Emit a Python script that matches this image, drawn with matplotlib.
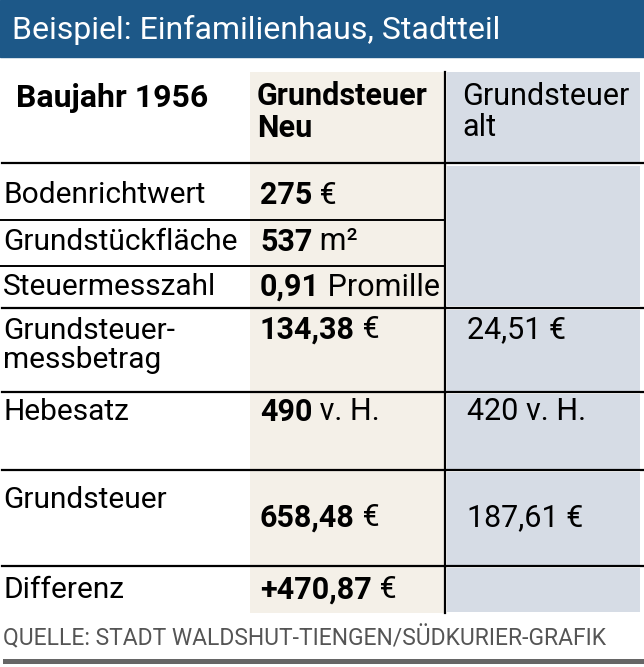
import matplotlib.pyplot as plt
from matplotlib.patches import Rectangle

FONT = ['Liberation Sans Narrow', 'Roboto', 'DejaVu Sans']

title = 'Beispiel: Einfamilienhaus, Stadtteil'
source = 'QUELLE: STADT WALDSHUT-TIENGEN/SÜDKURIER-GRAFIK'
corner = 'Baujahr 1956'
col_new = 'Grundsteuer\nNeu'
col_old = 'Grundsteuer\nalt'

labels = ['Bodenrichtwert', 'Grundstückfläche', 'Steuermesszahl',
          'Grundsteuer-\nmessbetrag', 'Hebesatz', 'Grundsteuer', 'Differenz']
new_nums = ['275', '537', '0,91', '134,38', '490', '658,48', '+470,87']
new_units = [' €', ' m²', ' Promille', ' €', ' v. H.', ' €', ' €']
old_vals = ['', '', '', '24,51 €', '420 v. H.', '187,61 €', '']

# row boundaries in pixels
text_y = [195, 242, 287, 330, 412, 500, 590]
num_y_offset = [0, 0, 0, 0, 0, 18, 0]

fig = plt.figure(figsize=(6.44, 6.67), dpi=100)
ax = fig.add_axes([0, 0, 1, 1])
ax.set_xlim(0, 644)
ax.set_ylim(667, 0)
ax.axis('off')

beige = '#f4f0e8'
grey_blue = '#d6dce5'

# title bar
ax.add_patch(Rectangle((0, 0), 644, 57, color='#1d5888'))
ax.text(12, 30, title, color='white', fontsize=23, family=FONT, va='center')

# column backgrounds
ax.add_patch(Rectangle((250, 72), 195, 541, color=beige, lw=0))
ax.add_patch(Rectangle((447, 72), 193, 91, color=grey_blue, lw=0))
ax.add_patch(Rectangle((447, 166), 193, 140, color=grey_blue, lw=0))
for top, bot in [(310, 392), (394, 470), (472, 566), (568, 613)]:
    ax.add_patch(Rectangle((447, top), 193, bot - top - 1, color=grey_blue, lw=0))

# lines
for y in [163, 308, 392, 470, 566]:
    ax.plot([2, 644], [y, y], color='black', lw=1.6)
for y in [220, 266]:
    ax.plot([0, 445], [y, y], color='black', lw=1.4)
ax.plot([445, 445], [72, 613], color='black', lw=1.6)
ax.add_patch(Rectangle((3, 659), 641, 5, color='#666666', lw=0))

# header
ax.text(16, 98, corner, fontsize=23, weight='bold', family=FONT, va='center')
ax.text(257, 112, col_new, fontsize=22, weight='bold', family=FONT, va='center', linespacing=1.05)
ax.text(462, 112, col_old, fontsize=22, family=FONT, va='center', linespacing=1.05)

fig.canvas.draw()
renderer = fig.canvas.get_renderer()
inv = ax.transData.inverted()

for i, lab in enumerate(labels):
    y = text_y[i]
    if '\n' in lab:
        ax.text(3, y - 13, lab, fontsize=21.5, family=FONT, va='top', linespacing=1.05)
    else:
        ax.text(3, y, lab, fontsize=21.5, family=FONT, va='center')
    ny = y + num_y_offset[i]
    t = ax.text(260, ny, new_nums[i], fontsize=22, weight='bold', family=FONT, va='center')
    bb = t.get_window_extent(renderer)
    x_end = inv.transform((bb.x1, bb.y0))[0]
    ax.text(x_end, ny, new_units[i], fontsize=22, family=FONT, va='center')
    if old_vals[i]:
        ax.text(467, ny, old_vals[i], fontsize=22, family=FONT, va='center')

ax.text(3, 638, source, fontsize=16.5, color='#555555', family=FONT, va='center')

fig.savefig('out.png', dpi=100)
